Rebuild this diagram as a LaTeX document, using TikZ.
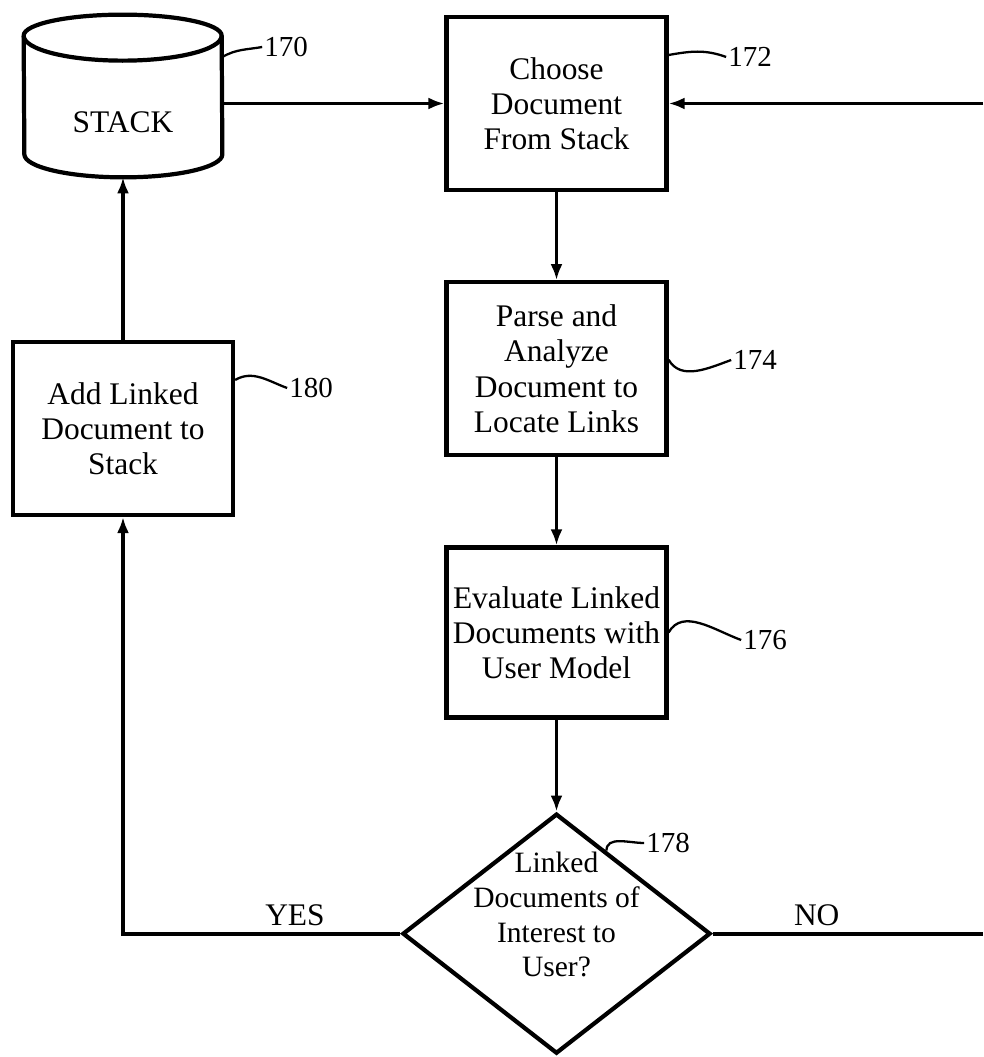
\documentclass[tikz,border=0pt]{standalone}
\usepackage{fontspec}
\setmainfont{Liberation Serif}
\usetikzlibrary{shapes.geometric, arrows.meta, positioning, calc}

\begin{document}
\begin{tikzpicture}[
      auto,
      node distance=1.76cm,
      font=\fontsize{17.9}{20}\selectfont,
      block/.style={rectangle, draw, line width=2.4pt, align=center, minimum width=4.4cm, minimum height=3.46cm},
      decision/.style={diamond, draw, line width=2.4pt, minimum width=6.16cm, minimum height=4.8cm, inner sep=0pt},
      store/.style={rectangle, minimum width=3.96cm, minimum height=3.24cm},
      line/.style={draw, line width=2.2pt, -{Latex[length=0.32cm, width=0.24cm]}},
      tag/.style={inner sep=1pt, font=\fontsize{16.5}{18}\selectfont},
      squiggle/.style={draw, line width=1.3pt}
    ]
    \useasboundingbox (0,0) rectangle (19.66,-21.14);

    % Nodes
    \node[store, label={[yshift=-0.52cm]center:STACK}] (stack) at (2.46,-1.92) {};
    \node[block] (choose) at (11.13,-2.07) {Choose\\Document\\From Stack};
    \node[block, below=of choose] (parse) {Parse and\\Analyze\\Document to\\Locate Links};
    \node[block, below=of parse, minimum height=3.4cm] (evaluate) {Evaluate Linked\\Documents with\\User Model};
    \node[decision, below=1.84cm of evaluate, label={[yshift=0.38cm, align=center, font=\fontsize{16.8}{19.8}\selectfont]center:Linked\\Documents of\\Interest to\\User?}] (decide) {};
    \node[block, below=3.25cm of stack] (add) {Add Linked\\Document to\\Stack};
    \coordinate (rightedge) at (19.66,0);

    % Stack outline
    \draw[line width=2.4pt] ([yshift=-0.42cm]stack.north west) arc[start angle=180, end angle=0, x radius=1.98cm, y radius=0.42cm]
      -- ([yshift=0.46cm]stack.south east) arc[start angle=0, end angle=-180, x radius=1.98cm, y radius=0.46cm] -- cycle;
    \draw[line width=2.4pt] ([yshift=-0.42cm]stack.north west) arc[start angle=180, end angle=360, x radius=1.98cm, y radius=0.5cm];

    % Reference numerals
    \node[tag] (n170) at (5.72,-0.94) {170};
    \node[tag] (n172) at (15.0,-1.14) {172};
    \node[tag] (n174) at (15.1,-7.2) {174};
    \node[tag] (n176) at (15.3,-12.8) {176};
    \node[tag] (n178) at (13.36,-16.86) {178};
    \node[tag] (n180) at (6.22,-7.76) {180};

    \draw[squiggle] ([yshift=0.78cm]stack.east) to[out=30, in=190] (n170.west);
    \draw[squiggle] ([yshift=0.97cm]choose.east) to[out=10, in=160] (n172.west);
    \draw[squiggle] ([yshift=0.18cm]parse.east) to[out=-60, in=200] (n174.west);
    \draw[squiggle] (evaluate.east) to[out=60, in=160] (n176.west);
    \draw[squiggle] ($(decide.north)!0.32!(decide.east)$) to[out=90, in=180] (n178.west);
    \draw[squiggle] ([yshift=0.97cm]add.east) to[out=30, in=160] (n180.west);

    % Connections
    \draw[line] (stack.east |- choose.west) -- (choose.west);
    \draw[line] (choose.east -| rightedge) -- (choose.east);
    \draw[line] (choose) -- (parse);
    \draw[line] (parse) -- (evaluate);
    \draw[line] (evaluate) -- (decide);
    \draw[line] (decide.west) -| (add.south) node[pos=0.19, above] {YES};
    \draw[line width=2.2pt] (decide.east) -- (decide.east -| rightedge) node[pos=0.385, above] {NO};
    \draw[line] (add) -- (stack);
\end{tikzpicture}
\end{document}
